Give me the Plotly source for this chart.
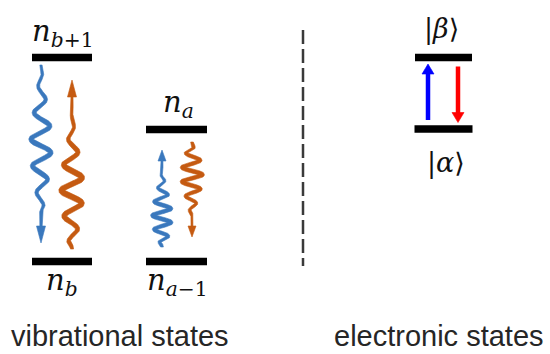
import numpy as np
import plotly.graph_objects as go

# ---------------- data ----------------
level_names = ["n_b+1", "n_b", "n_a", "n_a-1", "beta", "alpha"]
level_texts = ["<i>n</i><sub><i>b</i>+1</sub>", "<i>n</i><sub><i>b</i></sub>",
               "<i>n</i><sub><i>a</i></sub>", "<i>n</i><sub><i>a</i>−1</sub>",
               "|<i>β</i>⟩", "|<i>α</i>⟩"]
level_y = [57.5, 261.5, 129.5, 261.5, 57.5, 129.0]
level_xc = [62, 62, 176.5, 176.5, 443.5, 443.5]
level_half = [30, 30, 30.5, 30.5, 28.5, 29]
label_x = [63, 62, 178, 177, 441, 446]
label_y = [33, 282, 104, 282, 29, 163]
label_size = [29, 29, 29, 29, 27, 27]

group_titles = ["vibrational states", "electronic states"]
group_title_x = [120, 439]

# wavy transitions
wave_x = [41, 72, 162, 192]
wave_from = [0, 1, 3, 2]
wave_to = [1, 0, 2, 3]
wave_tip = [243, 80, 150, 237]
wave_period = [27, 26, 14, 14.5]
wave_amp = [10.0, 10.5, 9.5, 10.5]
wave_color = ["#3a78bd", "#c55a11", "#3a78bd", "#c55a11"]

# electronic transitions
el_x = [428, 458]
el_from = [5, 4]
el_to = [4, 5]
el_color = ["#0000ff", "#ff0000"]

W, H = 550, 354
fig = go.Figure()


def ribbon(xs, ys, widths):
    dx = np.gradient(xs)
    dy = np.gradient(ys)
    n = np.hypot(dx, dy)
    nx, ny = -dy / n, dx / n
    lx, ly = xs + nx * widths / 2, ys + ny * widths / 2
    rx, ry = xs - nx * widths / 2, ys - ny * widths / 2
    px = np.concatenate([lx, rx[::-1], lx[:1]])
    py = np.concatenate([ly, ry[::-1], ly[:1]])
    return px, py


def add_poly(px, py, color):
    fig.add_trace(go.Scatter(x=px, y=py, mode="lines", fill="toself",
                             fillcolor=color, line=dict(color=color, width=0.6),
                             hoverinfo="skip", showlegend=False))


def arrowhead(xt, yt, direction, length, half, color):
    base = yt - direction * length
    add_poly([xt - half, xt + half, xt, xt - half], [base, base, yt, base], color)


# level bars
for i in range(len(level_names)):
    fig.add_trace(go.Scatter(x=[level_xc[i] - level_half[i], level_xc[i] + level_half[i]],
                             y=[level_y[i], level_y[i]], mode="lines",
                             line=dict(color="black", width=7.5),
                             hoverinfo="skip", showlegend=False))

# wavy arrows
for k in range(4):
    big = wave_period[k] > 20
    y0 = level_y[wave_from[k]]
    y1 = level_y[wave_to[k]]
    d = 1 if y1 > y0 else -1
    tip = wave_tip[k]
    start = y0 + d * 7 if k in (0, 1) else (y0 + d * 14 if k == 3 else y0 - 14)
    if k == 2:
        start = 247
    if k == 3:
        start = 142
    if k == 1:
        start = 249
    if k == 0:
        start = 65
    head_len = 17 if big else 11
    base = tip - d * head_len
    straight = 13 if big else 8
    wave_end = base - d * straight
    ys = np.linspace(start, base + d * 1, 600)
    lo, hi = min(start, wave_end), max(start, wave_end)
    shift = [6, 10, 8, -5][k]
    yc = (lo + hi) / 2 + shift
    sig = (hi - lo) * (0.36 if big else 0.4)
    env = np.exp(-((ys - yc) / sig) ** 2)
    taper = np.clip((ys - lo) / 10, 0, 1) * np.clip((hi - ys) / 8, 0, 1)
    env = env * np.sin(taper * np.pi / 2) ** 2
    xs = wave_x[k] + wave_amp[k] * env * np.sin(2 * np.pi * (ys - start) / wave_period[k])
    maxw = [4.6, 5.4, 3.8, 3.8][k]
    widths = 1.5 + (maxw - 1.5) * np.exp(-((ys - yc) / (sig * 1.3)) ** 2)
    px, py = ribbon(xs, ys, widths)
    add_poly(px, py, wave_color[k])
    arrowhead(wave_x[k], tip, d, head_len, 4.5 if big else 4, wave_color[k])

# electronic arrows
for k in range(2):
    y0 = level_y[el_from[k]]
    y1 = level_y[el_to[k]]
    d = 1 if y1 > y0 else -1
    start = y0 + d * 9
    tip = y1 - d * 6.5
    base = tip - d * 10
    fig.add_trace(go.Scatter(x=[el_x[k], el_x[k]], y=[start, base + d * 1], mode="lines",
                             line=dict(color=el_color[k], width=4.5),
                             hoverinfo="skip", showlegend=False))
    arrowhead(el_x[k], tip, d, 10, 6, el_color[k])

# dashed separator
fig.add_trace(go.Scatter(x=[303, 303], y=[30, 266], mode="lines",
                         line=dict(color="#3a3a3a", width=2.5, dash="14px,5px"),
                         hoverinfo="skip", showlegend=False))

ann = []
for i in range(len(level_names)):
    ann.append(dict(x=label_x[i], y=label_y[i], text=level_texts[i], showarrow=False,
                    xanchor="center", yanchor="middle",
                    font=dict(family="DejaVu Serif, Liberation Serif, serif",
                              size=label_size[i], color="#111111")))
for t, x in zip(group_titles, group_title_x):
    ann.append(dict(x=x, y=353.5, text=t, showarrow=False, xanchor="center", yanchor="bottom",
                    font=dict(family="Liberation Sans, Arial, sans-serif", size=29,
                              color="#262626")))

fig.update_layout(width=W, height=H, margin=dict(l=0, r=0, t=0, b=0),
                  paper_bgcolor="white", plot_bgcolor="white",
                  xaxis=dict(range=[0, W], visible=False, fixedrange=True),
                  yaxis=dict(range=[H, 0], visible=False, fixedrange=True),
                  annotations=ann, showlegend=False)

fig.write_html("out.html")
